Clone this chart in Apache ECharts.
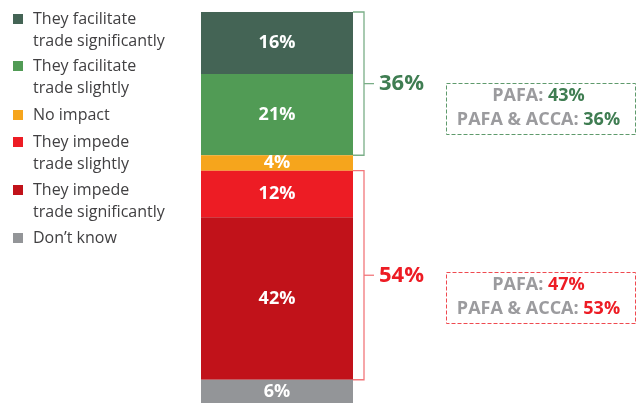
<!DOCTYPE html>
<html><head><meta charset="utf-8">
<script src="https://cdn.jsdelivr.net/npm/echarts@6/dist/echarts.min.js"></script>
<style>html,body{margin:0;padding:0;background:#fff}#c{width:641px;height:403px}</style>
</head><body><div id="c"></div>
<script>
const categories = ['They facilitate\ntrade significantly','They facilitate\ntrade slightly','No impact','They impede\ntrade slightly','They impede\ntrade significantly','Don\u2019t know'];
const values = [16, 21, 4, 12, 42, 6];
const colors = ['#446455', '#519b55', '#f6a51c', '#ed1c24', '#c1121a', '#939598'];
const groupMembers = [[0, 1], [3, 4]];
const groupLabels = ['36%', '54%'];
const groupTextColors = ['#3f7d52', '#ed1c24'];
const groupLineColors = ['#7aae87', '#f2777b'];
const boxLineColors = ['#5f9a6c', '#ef4a50'];
const pafa = ['43%', '47%'];
const pafaAcca = ['36%', '53%'];
const legendIconCenters = [19, 66, 115, 142, 190, 238];

const FONT = '"Open Sans", Lato, sans-serif';

const series = categories.map((name, i) => ({
  name: name,
  type: 'bar',
  stack: 'total',
  barWidth: '100%',
  itemStyle: { color: colors[i] },
  label: {
    show: true, position: 'inside', color: '#fff', fontSize: 18, fontWeight: 'bold',
    fontFamily: FONT, formatter: '{c}%'
  },
  data: [values[i]]
}));

const bracketData = groupMembers.map((m, i) => {
  const s = values.slice(0, m[0]).reduce((a, b) => a + b, 0);
  const e = s + m.reduce((a, k) => a + values[k], 0);
  return [0, s, e, i];
});

series.push({
  type: 'custom',
  silent: true,
  data: bracketData,
  encode: { x: 0, y: [1, 2] },
  renderItem: function (params, api) {
    const idx = api.value(3);
    const base = api.coord([api.value(0), 0]);
    const x0 = base[0] + api.size([1, 0])[0] / 2;
    const y1 = api.coord([0, api.value(1)])[1];
    const y2 = api.coord([0, api.value(2)])[1];
    const ym = (y1 + y2) / 2;
    const lc = groupLineColors[idx];
    return {
      type: 'group',
      children: [
        { type: 'polyline', shape: { points: [[x0, y1], [x0 + 11, y1], [x0 + 11, y2], [x0, y2]] },
          style: { stroke: lc, lineWidth: 1.3, fill: null } },
        { type: 'line', shape: { x1: x0 + 11, y1: ym, x2: x0 + 21, y2: ym },
          style: { stroke: lc, lineWidth: 1.3 } },
        { type: 'text', x: x0 + 26, y: ym,
          style: { text: groupLabels[idx], fill: groupTextColors[idx], fontSize: 22, fontWeight: 'bold',
                   fontFamily: FONT, verticalAlign: 'middle', align: 'left' } }
      ]
    };
  }
});

const legends = categories.map((name, i) => {
  const twoLine = name.indexOf('\n') >= 0;
  return {
    left: 13,
    top: legendIconCenters[i] - (twoLine ? 33 : 11),
    orient: 'vertical',
    padding: 0,
    itemWidth: 10, itemHeight: 10,
    icon: 'rect',
    selectedMode: false,
    data: [name],
    formatter: twoLine ? (n => '\u00a0\n' + n) : (n => n),
    textStyle: {
      fontSize: 16, color: '#414042', fontFamily: FONT, lineHeight: 22,
      padding: [0, 0, 0, 5]
    }
  };
});

const boxTops = [81, 270];
const graphics = [];
boxTops.forEach((t, i) => {
  graphics.push({
    type: 'rect', left: 444, top: t,
    shape: { width: 189, height: 51 },
    style: { fill: 'none', stroke: boxLineColors[i], lineWidth: 1, lineDash: [4, 2] }
  });
  graphics.push({
    type: 'text', x: 538.5, y: t + 27,
    style: {
      text: '{g|PAFA: }{v|' + pafa[i] + '}\n{g|PAFA & ACCA: }{v|' + pafaAcca[i] + '}',
      align: 'center', verticalAlign: 'middle',
      rich: {
        g: { fill: '#9b9b9e', fontSize: 18, fontWeight: 'bold', fontFamily: FONT, lineHeight: 24 },
        v: { fill: groupTextColors[i], fontSize: 18, fontWeight: 'bold', fontFamily: FONT, lineHeight: 24 }
      }
    }
  });
});

const chart = echarts.init(document.getElementById('c'));
chart.setOption({
  animation: false,
  legend: legends,
  grid: { left: 201, top: 12, width: 152, height: 394 },
  xAxis: { type: 'category', data: ['All'], show: false },
  yAxis: { type: 'value', min: 0, max: 101, inverse: true, show: false },
  series: series,
  graphic: graphics
});
</script>
</body></html>
